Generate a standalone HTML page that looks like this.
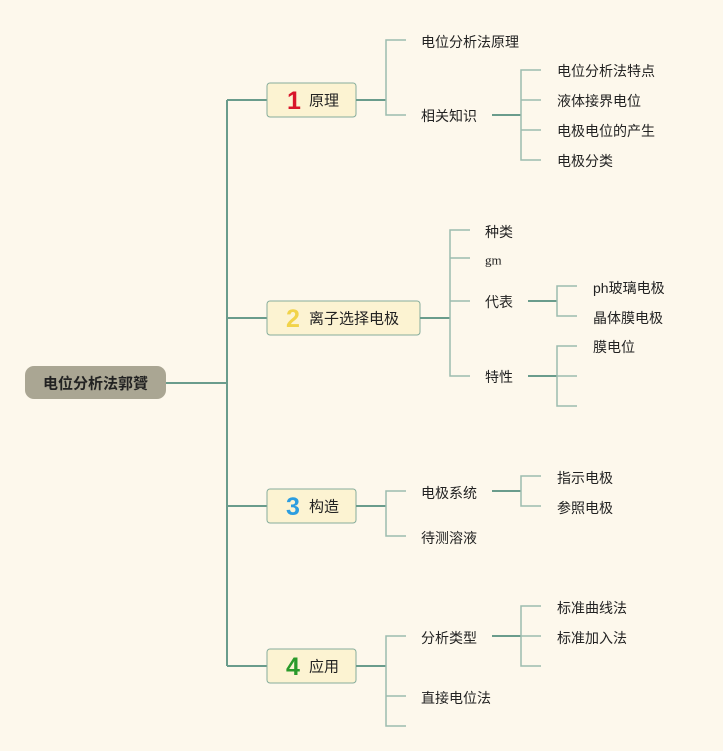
<!DOCTYPE html>
<html><head><meta charset="utf-8"><style>
html,body{margin:0;padding:0;background:#fdf8ec;}
svg{display:block}
text{font-family:"Liberation Sans","Noto Sans CJK SC",sans-serif;font-size:14px;fill:#222;dominant-baseline:central}
.l{stroke:#9cbcae;stroke-width:1.5;fill:none}
.t{stroke:#6a9c8c;stroke-width:2;fill:none}
.b{fill:#fcf3d2;stroke:#86ad9c;stroke-width:1}
.n{font-weight:bold;font-size:25px}
</style></head><body>
<svg width="723" height="751" viewBox="0 0 723 751">
<path class="t" d="M166 383H227M227 100V666M227 100H267M227 318H267M227 506H267M227 666H267"/>
<rect x="25" y="366" width="141" height="33" rx="9" fill="#aaa693"/>
<text x="95.5" y="384" text-anchor="middle" style="font-weight:bold;font-size:15px">电位分析法郭贇</text>
<rect class="b" x="267" y="83" width="89" height="34" rx="3"/>
<text x="294" y="101" class="n" style="fill:#d8152a" text-anchor="middle">1</text>
<text x="309" y="101" style="font-size:15px">原理</text>
<rect class="b" x="267" y="301" width="153" height="34" rx="3"/>
<text x="293" y="319" class="n" style="fill:#f1d34a" text-anchor="middle">2</text>
<text x="309" y="319" style="font-size:15px">离子选择电极</text>
<rect class="b" x="267" y="489" width="89" height="34" rx="3"/>
<text x="293" y="507" class="n" style="fill:#2c9de0" text-anchor="middle">3</text>
<text x="309" y="507" style="font-size:15px">构造</text>
<rect class="b" x="267" y="649" width="89" height="34" rx="3"/>
<text x="293" y="667" class="n" style="fill:#2a9a2a" text-anchor="middle">4</text>
<text x="309" y="667" style="font-size:15px">应用</text>
<path class="t" d="M356 100H386"/>
<path class="l" d="M406 40H386V115H406"/>
<text x="421" y="42">电位分析法原理</text>
<text x="421" y="116">相关知识</text>
<path class="t" d="M492 115H521"/>
<path class="l" d="M541 70H521V160H541M521 100H541M521 130H541"/>
<text x="557" y="71">电位分析法特点</text>
<text x="557" y="101">液体接界电位</text>
<text x="557" y="131">电极电位的产生</text>
<text x="557" y="161">电极分类</text>
<path class="t" d="M420 318H450"/>
<path class="l" d="M470 230H450V376H470M450 258H470M450 301H470"/>
<text x="485" y="232">种类</text>
<text x="485" y="260" style="font-family:'Liberation Serif',serif;font-size:13px">gm</text>
<text x="485" y="302">代表</text>
<text x="485" y="377">特性</text>
<path class="t" d="M528 301H557M528 376H557"/>
<path class="l" d="M577 286H557V316H577M577 346H557V406H577M557 376H577"/>
<text x="593" y="288">ph玻璃电极</text>
<text x="593" y="318">晶体膜电极</text>
<text x="593" y="347">膜电位</text>
<path class="t" d="M356 506H386"/>
<path class="l" d="M406 491H386V536H406"/>
<text x="421" y="493">电极系统</text>
<text x="421" y="538">待测溶液</text>
<path class="t" d="M492 491H521"/>
<path class="l" d="M541 476H521V506H541"/>
<text x="557" y="478">指示电极</text>
<text x="557" y="508">参照电极</text>
<path class="t" d="M356 666H386"/>
<path class="l" d="M406 636H386V726H406M386 696H406"/>
<text x="421" y="638">分析类型</text>
<text x="421" y="698">直接电位法</text>
<path class="t" d="M492 636H521"/>
<path class="l" d="M541 606H521V666H541M521 636H541"/>
<text x="557" y="608">标准曲线法</text>
<text x="557" y="638">标准加入法</text>
</svg>
</body></html>
